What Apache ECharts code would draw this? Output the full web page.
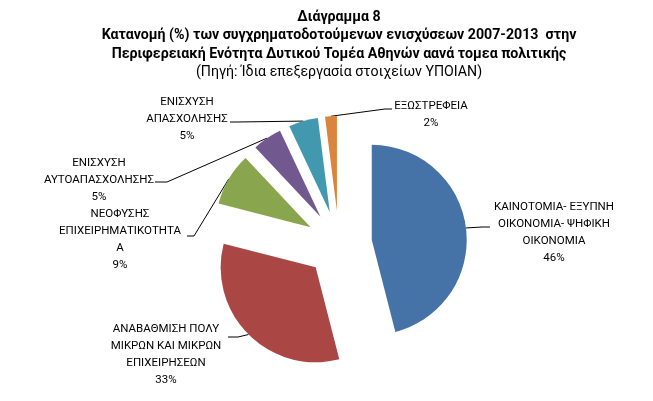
<!DOCTYPE html>
<html><head><meta charset="utf-8">
<script src="https://cdn.jsdelivr.net/npm/echarts@6/dist/echarts.min.js"></script>
<style>html,body{margin:0;padding:0;background:#fff}#c{width:653px;height:401px}</style>
</head><body><div id="c"></div><script>
// ---- data ----
const categories = [
  'ΚΑΙΝΟΤΟΜΙΑ- ΕΞΥΠΝΗ\nΟΙΚΟΝΟΜΙΑ- ΨΗΦΙΚΗ\nΟΙΚΟΝΟΜΙΑ',
  'ΑΝΑΒΑΘΜΙΣΗ ΠΟΛΥ\nΜΙΚΡΩΝ ΚΑΙ ΜΙΚΡΩΝ\nΕΠΙΧΕΙΡΗΣΕΩΝ',
  'ΝΕΟΦΥΣΗΣ\nΕΠΙΧΕΙΡΗΜΑΤΙΚΟΤΗΤΑ\nΑ',
  'ΕΝΙΣΧΥΣΗ\nΑΥΤΟΑΠΑΣΧΟΛΗΣΗΣ',
  'ΕΝΙΣΧΥΣΗ\nΑΠΑΣΧΟΛΗΣΗΣ',
  'ΕΞΩΣΤΡΕΦΕΙΑ'
];
const values = [46, 33, 9, 5, 5, 2];
const titleLines = [
  'Διάγραμμα 8',
  'Κατανομή (%) των συγχρηματοδοτούμενων ενισχύσεων 2007-2013  στην',
  'Περιφερειακή Ενότητα Δυτικού Τομέα Αθηνών αανά τομεα πολιτικής'
];
const sourceLine = '(Πηγή: Ίδια επεξεργασία στοιχείων ΥΠΟΙΑΝ)';

// ---- styles / layout ----
const colors = ['#4572A7', '#AA4643', '#89A54E', '#71588F', '#4198AF', '#DB843D'];
const pieCenter = [339, 244];
const pieRadius = 95;
const explode = 33;
// label block: centre x, top y; leader line elbow and end
const labelPlacement = [
  { x: 554, y: 199, elbow: [482, 227], end: [490, 227] },
  { x: 166, y: 321, elbow: [238, 337], end: [228, 337] },
  { x: 120, y: 206, elbow: [194, 236], end: [187, 236] },
  { x: 99,  y: 155, elbow: [167, 182], end: [155, 182] },
  { x: 187, y: 94,  elbow: [236, 122], end: [230, 122] },
  { x: 431, y: 98,  elbow: [385, 109], end: [392, 109] }
];

const chart = echarts.init(document.getElementById('c'), null, { renderer: 'canvas' });
chart.setOption({
  animation: false,
  backgroundColor: '#fff',
  title: {
    text: titleLines.join('\n'),
    subtext: sourceLine,
    left: 334,
    textAlign: 'center',
    top: 3,
    itemGap: 0,
    textStyle: { fontFamily: 'Roboto', fontWeight: 'bold', fontSize: 14.2, lineHeight: 18.5, color: '#000' },
    subtextStyle: { fontFamily: 'Roboto', fontSize: 14.2, lineHeight: 18, color: '#000' }
  },
  series: [{
    // exploded slices
    type: 'pie',
    center: pieCenter,
    radius: [0, pieRadius],
    startAngle: 90,
    clockwise: true,
    selectedMode: 'multiple',
    selectedOffset: explode,
    silent: true,
    emphasis: { disabled: true },
    select: { itemStyle: { borderWidth: 0 } },
    itemStyle: { borderWidth: 0 },
    label: { show: false },
    labelLine: { show: false },
    data: values.map((v, i) => ({
      name: categories[i], value: v, selected: true,
      itemStyle: { color: colors[i] }
    }))
  }, {
    // label carrier (same layout, invisible sectors)
    type: 'pie',
    center: pieCenter,
    radius: [0, pieRadius],
    startAngle: 90,
    clockwise: true,
    silent: true,
    avoidLabelOverlap: false,
    emphasis: { disabled: true },
    itemStyle: { color: 'rgba(0,0,0,0)', borderWidth: 0 },
    label: {
      show: true,
      position: 'outside',
      formatter: '{b}\n{c}%',
      fontFamily: 'Roboto',
      fontSize: 11.5,
      lineHeight: 17,
      color: '#000',
      align: 'center'
    },
    labelLine: { show: true, lineStyle: { color: '#000', width: 1 } },
    labelLayout: function (p) {
      const L = labelPlacement[p.dataIndex];
      const s = p.labelLinePoints[0];
      const dx = s[0] - pieCenter[0], dy = s[1] - pieCenter[1];
      const d = Math.sqrt(dx * dx + dy * dy) || 1;
      const start = [s[0] + dx / d * explode, s[1] + dy / d * explode];
      return {
        x: L.x, y: L.y, align: 'center', verticalAlign: 'top',
        labelLinePoints: [start, L.elbow, L.end]
      };
    },
    data: values.map((v, i) => ({ name: categories[i], value: v }))
  }]
});
</script></body></html>
